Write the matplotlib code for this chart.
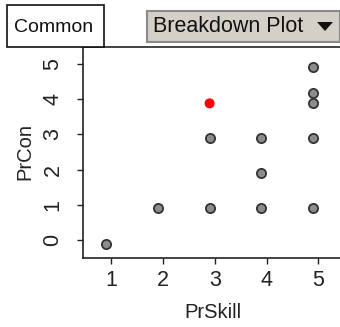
import matplotlib
matplotlib.use('Agg')
import matplotlib.pyplot as plt
from matplotlib.patches import Rectangle, Polygon

plt.rcParams['font.family'] = ['Liberation Sans', 'DejaVu Sans']

# data
skill = [0.9, 1.9, 2.9, 2.9, 3.9, 3.9, 3.9, 4.9, 4.9, 4.9, 4.9, 4.9]
con = [-0.1, 0.9, 0.9, 2.9, 0.9, 1.9, 2.9, 0.9, 2.9, 3.9, 4.17, 4.9]
hi_skill = [2.9]
hi_con = [3.88]
xticks = [1, 2, 3, 4, 5]
yticks = [0, 1, 2, 3, 4, 5]

W, H = 340, 327
fig = plt.figure(figsize=(W / 100, H / 100), dpi=100)

def fx(px):
    return px / W

def fy(py):
    return 1 - py / H

ax = fig.add_axes([fx(83), fy(258), fx(340) - fx(83), fy(47) - fy(258)])
ax.scatter(skill, con, s=44, c='#8c8c8c', edgecolors='#333333', linewidths=1.3, zorder=3)
ax.scatter(hi_skill, hi_con, s=52, c='#ff0000', edgecolors='none', zorder=4)

ax.set_xlim(0.454, 5.42)
ax.set_ylim(-0.51, 5.48)
ax.set_xticks(xticks)
ax.set_yticks(yticks)
ax.spines['right'].set_visible(False)
for s in ['left', 'bottom', 'top']:
    ax.spines[s].set_linewidth(1.2)
    ax.spines[s].set_color('#222222')
ax.tick_params(direction='out', length=4, width=1, labelsize=15.5, colors='#222222')
ax.tick_params(axis='x', pad=5)
ax.tick_params(axis='y', pad=10)
for lab in ax.get_yticklabels():
    lab.set_rotation(90)
    lab.set_va('center')

fig.text(fx(25), fy(152), 'PrCon', rotation=90, ha='center', va='center', fontsize=14.5, color='#222222')
fig.text(fx(213), fy(313), 'PrSkill', ha='center', va='center', fontsize=14.5, color='#222222')

# header widgets
fig.add_artist(Rectangle((fx(7), fy(47)), fx(104) - fx(7), fy(5) - fy(47),
                         transform=fig.transFigure, facecolor='white', edgecolor='#111111', linewidth=1.2))
fig.text(fx(54), fy(27), 'Common', ha='center', va='center', fontsize=14, color='#111111')

fig.add_artist(Rectangle((fx(147), fy(42)), fx(340) - fx(147), fy(11) - fy(42),
                         transform=fig.transFigure, facecolor='#d4d0c8', edgecolor='#8a8a8a', linewidth=1.5))
fig.text(fx(153), fy(27), 'Breakdown Plot', ha='left', va='center', fontsize=15.5, color='#111111')
fig.add_artist(Polygon([(fx(317), fy(22)), (fx(333), fy(22)), (fx(325), fy(31))],
                       closed=True, transform=fig.transFigure, facecolor='#111111', edgecolor='none'))

fig.savefig('out.png', dpi=100)
